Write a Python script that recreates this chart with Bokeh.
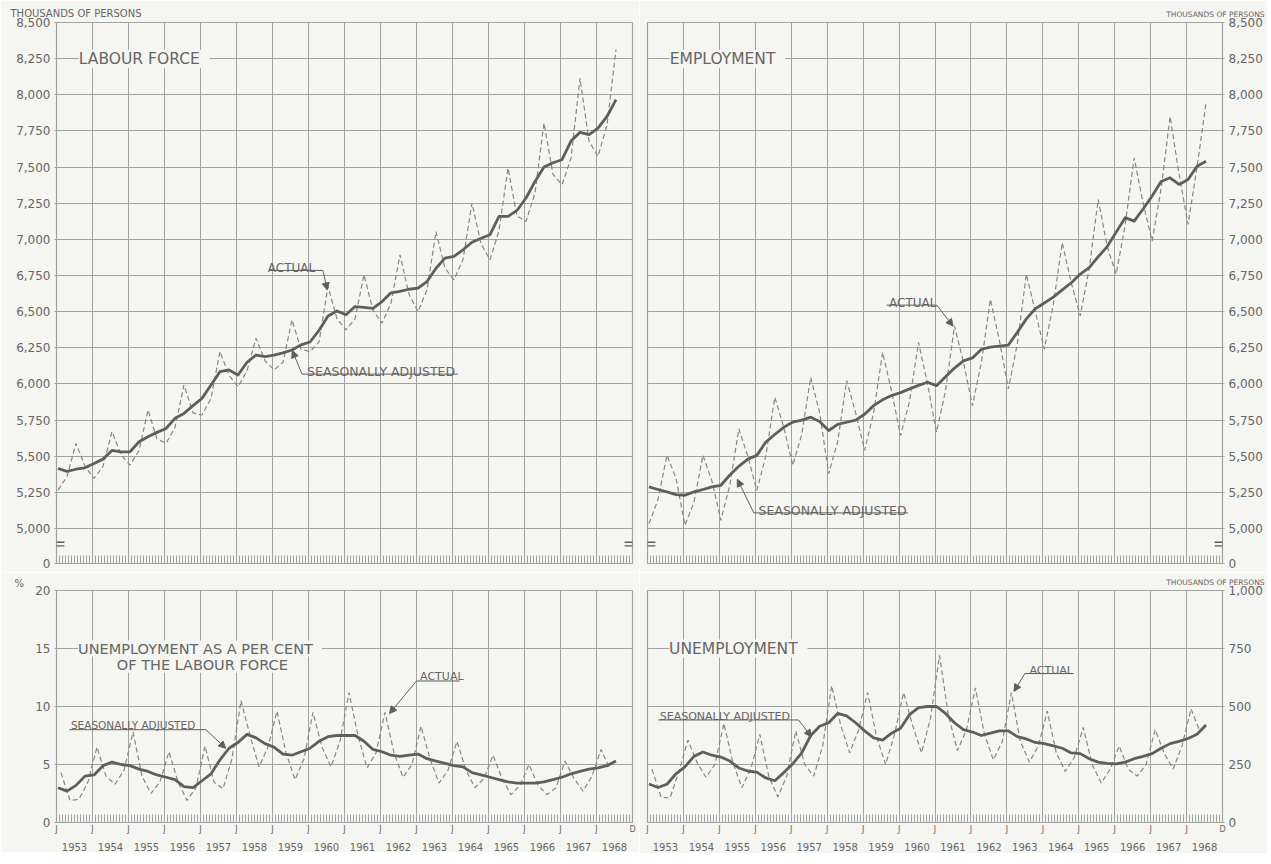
from bokeh.plotting import figure
from bokeh.models import FixedTicker, LinearAxis, Label, Arrow, NormalHead, Range1d
from bokeh.layouts import column, row
from bokeh.embed import file_html
from bokeh.resources import INLINE

# ---------------- data ----------------
YEARS = list(range(1953, 1969))
SA_MONTHS = [1, 4, 7, 10]          # months of the seasonally adjusted readings
LE_ACT_MONTHS = [1, 4, 7, 10]      # labour force / employment actual readings
UN_ACT_MONTHS = [2, 5, 8, 11]      # unemployment actual readings

lf_actual = [
    [5266, 5360, 5589, 5430], [5346, 5430, 5670, 5510], [5439, 5540, 5820, 5620],
    [5589, 5700, 5993, 5800], [5785, 5900, 6224, 6060], [5981, 6090, 6316, 6160],
    [6097, 6150, 6443, 6240], [6224, 6290, 6674, 6450], [6374, 6450, 6755, 6510],
    [6420, 6560, 6893, 6620], [6500, 6650, 7054, 6800], [6720, 6860, 7251, 6970],
    [6859, 7060, 7493, 7160], [7124, 7320, 7805, 7450], [7378, 7560, 8116, 7680],
    [7574, 7790, 8313],
]
lf_sa = [
    [5415, 5395, 5410, 5420], [5450, 5480, 5540, 5530], [5531, 5600, 5635, 5665],
    [5692, 5762, 5796, 5850], [5900, 5993, 6085, 6097], [6062, 6150, 6200, 6189],
    [6200, 6215, 6235, 6270], [6290, 6370, 6470, 6505], [6478, 6535, 6530, 6523],
    [6570, 6630, 6640, 6655], [6662, 6708, 6800, 6870], [6882, 6928, 6980, 7008],
    [7032, 7159, 7159, 7200], [7286, 7401, 7500, 7530], [7551, 7680, 7740, 7724],
    [7770, 7850, 7967],
]
emp_actual = [
    [5034, 5200, 5506, 5350], [5023, 5180, 5506, 5330], [5057, 5300, 5690, 5500],
    [5264, 5500, 5908, 5700], [5437, 5650, 6046, 5800], [5379, 5600, 6023, 5800],
    [5540, 5800, 6219, 5950], [5643, 5880, 6288, 6000], [5667, 5950, 6402, 6150],
    [5850, 6150, 6586, 6300], [5966, 6280, 6759, 6500], [6241, 6550, 6977, 6700],
    [6471, 6800, 7276, 6950], [6759, 7100, 7563, 7250], [6988, 7350, 7850, 7450],
    [7103, 7500, 7943],
]
emp_sa = [
    [5288, 5270, 5253, 5235], [5230, 5253, 5270, 5288], [5299, 5370, 5430, 5480],
    [5506, 5598, 5650, 5700], [5736, 5750, 5770, 5740], [5678, 5720, 5735, 5750],
    [5790, 5850, 5890, 5920], [5940, 5966, 5990, 6012], [5988, 6050, 6110, 6160],
    [6180, 6240, 6255, 6262], [6269, 6357, 6450, 6520], [6560, 6600, 6650, 6700],
    [6760, 6805, 6880, 6950], [7050, 7150, 7126, 7210], [7300, 7400, 7426, 7380],
    [7414, 7506, 7540],
]
ur_actual = [
    [4.3, 1.9, 2.0, 3.5], [6.5, 4.0, 3.3, 4.5], [7.8, 4.0, 2.5, 3.5],
    [6.1, 3.5, 1.9, 3.0], [6.6, 3.5, 2.9, 5.5], [10.5, 7.5, 4.8, 6.5],
    [9.6, 6.0, 3.7, 5.5], [9.5, 6.5, 4.8, 7.0], [11.2, 7.5, 4.7, 6.0],
    [9.5, 6.0, 3.9, 5.0], [8.3, 5.5, 3.4, 4.5], [7.0, 4.5, 3.0, 3.8],
    [5.8, 3.8, 2.4, 3.2], [5.0, 3.2, 2.4, 3.0], [5.3, 3.8, 2.7, 4.0],
    [6.3, 4.6],
]
ur_sa = [
    [3.0, 2.7, 3.2, 4.0], [4.1, 4.9, 5.2, 5.0], [4.9, 4.6, 4.4, 4.1],
    [3.9, 3.7, 3.1, 3.0], [3.6, 4.2, 5.4, 6.4], [6.9, 7.6, 7.3, 6.8],
    [6.5, 5.9, 5.8, 6.1], [6.4, 7.0, 7.4, 7.5], [7.5, 7.5, 7.0, 6.3],
    [6.1, 5.8, 5.7, 5.8], [5.9, 5.5, 5.3, 5.1], [4.9, 4.8, 4.3, 4.1],
    [3.9, 3.7, 3.5, 3.4], [3.4, 3.4, 3.5, 3.7], [3.9, 4.2, 4.4, 4.6],
    [4.7, 4.9, 5.3],
]
ue_actual = [
    [230, 110, 105, 220], [355, 260, 195, 250], [427, 260, 150, 230],
    [380, 200, 110, 200], [395, 250, 200, 330], [590, 420, 300, 400],
    [560, 370, 250, 380], [560, 420, 300, 450], [720, 460, 310, 400],
    [580, 380, 270, 350], [560, 350, 260, 330], [480, 300, 220, 280],
    [410, 250, 170, 230], [330, 230, 200, 250], [400, 300, 230, 330],
    [490, 390],
]
ue_sa = [
    [166, 151, 165, 210], [240, 285, 304, 290], [282, 265, 235, 222],
    [217, 192, 180, 215], [253, 300, 375, 415], [430, 470, 460, 430],
    [395, 365, 355, 385], [406, 465, 495, 500], [500, 470, 430, 400],
    [390, 375, 385, 395], [395, 370, 360, 345], [340, 330, 320, 300],
    [297, 275, 260, 255], [253, 260, 275, 285], [297, 320, 340, 350],
    [362, 380, 420],
]

TOP_TICKS = list(range(5000, 8501, 250))
PCT_TICKS = [0, 5, 10, 15, 20]
UE_TICKS = [0, 250, 500, 750, 1000]

# ---------------- styling ----------------
BG = "#f5f5f1"
GRID = "#a2a2a2"
TXT = "#666666"
SA_C = "#5e5e5e"
ACT_C = "#868686"
FONT = "DejaVu Sans"
X0, X1 = 1953, 1969
TOP_ZERO = 4758  # position of the broken-axis "0"


def to_xy(rows, months):
    xs, ys = [], []
    for yr, vals in zip(YEARS, rows):
        for m, v in zip(months, vals):
            xs.append(yr + (m - 0.5) / 12.0)
            ys.append(v)
    return xs, ys


def panel(y0, y1, fw, fh, bl, br, bt, bb, yloc, yticks, ylabels, ygrid, bottom,
          ttext, talign, toffset, tstandoff, tsize):
    p = figure(x_range=Range1d(X0, X1), y_range=Range1d(y0, y1),
               frame_width=fw, frame_height=fh,
               min_border_left=bl, min_border_right=br,
               min_border_top=bt, min_border_bottom=bb,
               toolbar_location=None, output_backend="svg",
               y_axis_location=yloc,
               background_fill_color=BG, border_fill_color=BG,
               outline_line_color=GRID, outline_line_width=1.2)
    p.title.text = ttext
    p.title.align = talign
    p.title.offset = toffset
    p.title.standoff = tstandoff
    p.title.text_font = FONT
    p.title.text_font_size = tsize
    p.title.text_font_style = "normal"
    p.title.text_color = TXT

    ya = p.yaxis[0]
    ya.ticker = FixedTicker(ticks=yticks)
    ya.major_label_overrides = {t: l for t, l in zip(yticks, ylabels)}
    ya.major_label_text_font = FONT
    ya.major_label_text_font_size = "12px"
    ya.major_label_text_color = TXT
    ya.major_tick_out = 2
    ya.major_tick_in = 0
    ya.major_label_standoff = 4
    ya.major_tick_line_color = GRID
    ya.axis_line_color = GRID

    xa = p.xaxis[0]
    xa.ticker = FixedTicker(ticks=list(range(X0, X1 + 1)),
                            minor_ticks=[X0 + i / 12.0 for i in range(12 * (X1 - X0) + 1)])
    xa.major_tick_in = 12
    xa.major_tick_out = 0
    xa.minor_tick_in = 8
    xa.minor_tick_out = 0
    xa.major_tick_line_color = GRID
    xa.minor_tick_line_color = GRID
    xa.axis_line_color = GRID
    if bottom:
        xa.major_label_overrides = {y: ("D" if y == X1 else "J") for y in range(X0, X1 + 1)}
        xa.major_label_text_font = FONT
        xa.major_label_text_font_size = "8px"
        xa.major_label_text_color = TXT
        xa.major_label_standoff = 2
        mids = [y + 0.5 for y in YEARS]
        ax2 = LinearAxis(ticker=FixedTicker(ticks=mids),
                         major_label_overrides={m: str(int(m)) for m in mids},
                         major_tick_line_color=None, minor_tick_line_color=None,
                         axis_line_color=None, major_label_standoff=0,
                         major_label_text_font=FONT, major_label_text_font_size="10px",
                         major_label_text_color=TXT)
        p.add_layout(ax2, "below")
    else:
        xa.major_label_overrides = {y: "" for y in range(X0, X1 + 1)}
        xa.major_label_text_font_size = "0px"
        xa.major_label_standoff = 0

    p.xgrid.ticker = FixedTicker(ticks=list(range(X0, X1 + 1)))
    p.ygrid.ticker = FixedTicker(ticks=ygrid)
    for g in (p.xgrid, p.ygrid):
        g.grid_line_color = GRID
        g.grid_line_width = 1
        g.grid_line_alpha = 1
    return p


def draw(p, act_rows, act_months, sa_rows):
    ax, ay = to_xy(act_rows, act_months)
    sx, sy = to_xy(sa_rows, SA_MONTHS)
    p.line(ax, ay, line_color=ACT_C, line_width=1.2, line_dash="5 3")
    p.line(sx, sy, line_color=SA_C, line_width=2.8, line_join="round")


def text(p, x, y, s, size="12px", align="left", baseline="alphabetic", bg=False):
    lab = Label(x=x, y=y, text=s, text_font=FONT, text_font_size=size,
                text_color=TXT, text_align=align, text_baseline=baseline)
    if bg:
        lab.background_fill_color = BG
        lab.background_fill_alpha = 1.0
    p.add_layout(lab)


def leader(p, x0, x1, yu, tip_from_right, tx, ty):
    p.add_layout(Arrow(end=None, x_start=x0, y_start=yu, x_end=x1, y_end=yu,
                       line_color=SA_C, line_width=1))
    sx = x1 if tip_from_right else x0
    p.add_layout(Arrow(end=NormalHead(size=7, fill_color=SA_C, line_color=SA_C),
                       x_start=sx, y_start=yu, x_end=tx, y_end=ty,
                       line_color=SA_C, line_width=1))


def brk(p, x, y_hi, y_lo, dx):
    for yy in (y_hi, y_lo):
        p.add_layout(Arrow(end=None, x_start=x - dx, y_start=yy, x_end=x + dx, y_end=yy,
                           line_color=SA_C, line_width=1.3))


top_ticks = [TOP_ZERO] + TOP_TICKS
top_labels = ["0"] + [f"{t:,}" for t in TOP_TICKS]

# ---------------- top-left: labour force ----------------
tl = panel(TOP_ZERO, 8500, 576, 541, 56, 7, 22, 9, "left",
           top_ticks, top_labels, TOP_TICKS, False,
           "THOUSANDS OF PERSONS", "left", -46, 7, "10px")
draw(tl, lf_actual, LE_ACT_MONTHS, lf_sa)
text(tl, 1953.62, 8250, " LABOUR FORCE ", size="15.5px", baseline="middle", bg=True)
text(tl, 1958.87, 6805, "ACTUAL")
leader(tl, 1958.9, 1960.4, 6785, True, 1960.52, 6650)
text(tl, 1959.96, 6088, "SEASONALLY ADJUSTED", size="12.5px")
leader(tl, 1959.82, 1964.15, 6068, False, 1959.55, 6231)
brk(tl, 1953.0, 4905, 4880, 0.22)
brk(tl, 1969.0, 4905, 4880, 0.22)

# ---------------- top-right: employment ----------------
tr = panel(TOP_ZERO, 8500, 575, 541, 8, 45, 22, 9, "right",
           top_ticks, top_labels, TOP_TICKS, False,
           "THOUSANDS OF PERSONS", "right", -42, 8, "7.5px")
draw(tr, emp_actual, LE_ACT_MONTHS, emp_sa)
text(tr, 1953.62, 8250, " EMPLOYMENT ", size="15.5px", baseline="middle", bg=True)
text(tr, 1959.72, 6563, "ACTUAL")
leader(tr, 1959.65, 1961.05, 6545, True, 1961.5, 6400)
text(tr, 1956.09, 5124, "SEASONALLY ADJUSTED", size="12.5px")
leader(tr, 1955.96, 1960.25, 5108, False, 1955.5, 5340)
brk(tr, 1953.0, 4905, 4880, 0.22)
brk(tr, 1969.0, 4905, 4880, 0.22)

# ---------------- bottom-left: unemployment rate ----------------
bl = panel(0, 20, 576, 232, 56, 7, 17, 30, "left",
           PCT_TICKS, [str(t) for t in PCT_TICKS], [5, 10, 15], True,
           "%", "left", -42, 4, "10px")
draw(bl, ur_actual, UN_ACT_MONTHS, ur_sa)
text(bl, 1953.6, 15, " UNEMPLOYMENT AS A PER CENT ", size="14.5px",
     baseline="middle", bg=True)
text(bl, 1957.05, 13.6, "OF THE LABOUR FORCE", size="14.5px", align="center",
     baseline="middle", bg=True)
text(bl, 1963.1, 12.6, "ACTUAL", size="11px")
leader(bl, 1963.0, 1964.2, 12.2, False, 1962.25, 9.4)
text(bl, 1953.4, 8.4, "SEASONALLY ADJUSTED", size="10.5px")
leader(bl, 1953.35, 1957.15, 8.0, True, 1957.7, 6.4)

# ---------------- bottom-right: unemployment ----------------
br = panel(0, 1000, 575, 232, 8, 45, 17, 30, "right",
           UE_TICKS, [f"{t:,}" for t in UE_TICKS], [250, 500, 750], True,
           "THOUSANDS OF PERSONS", "right", -42, 7, "7.5px")
draw(br, ue_actual, UN_ACT_MONTHS, ue_sa)
text(br, 1953.6, 750, " UNEMPLOYMENT ", size="15.5px", baseline="middle", bg=True)
text(br, 1963.63, 657, "ACTUAL", size="11px")
leader(br, 1963.5, 1964.85, 642, False, 1963.2, 565)
text(br, 1953.34, 457, "SEASONALLY ADJUSTED", size="11px")
leader(br, 1953.3, 1957.2, 442, True, 1957.56, 370)

layout = column(row(tl, tr), row(bl, br))
open("out.html", "w").write(file_html(layout, INLINE))
